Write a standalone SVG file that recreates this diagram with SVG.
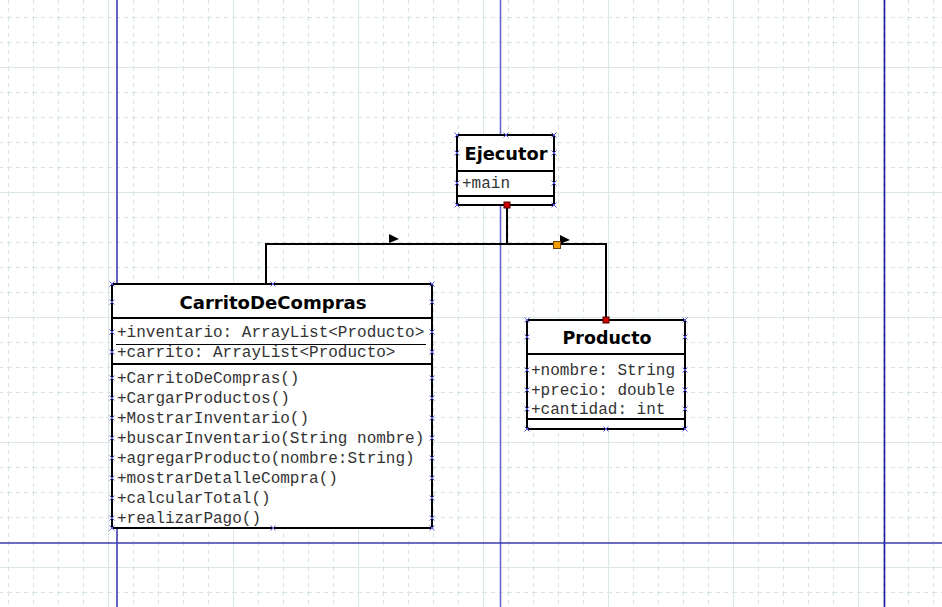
<svg xmlns="http://www.w3.org/2000/svg" xmlns:xlink="http://www.w3.org/1999/xlink" width="942" height="607" viewBox="0 0 942 607">
<style>
.box{fill:#fff;stroke:#000;stroke-width:2}
.div{stroke:#000;stroke-width:2}
.thin{stroke:#000;stroke-width:1}
.title{font-family:"DejaVu Sans",Verdana,sans-serif;font-weight:bold;font-size:18px;fill:#000;text-anchor:middle}
.mem{font-family:"Liberation Mono","Courier New",monospace;font-size:16px;fill:#333}
.conn{fill:none;stroke:#000;stroke-width:2}
.xm{stroke:#5a5ae0;stroke-width:1;fill:none}
</style>
<defs>
<pattern id="g25" patternUnits="userSpaceOnUse" x="8" y="17" width="25" height="25">
<path d="M0.5,0 V25 M0,0.5 H25" stroke="#d6e4e4" stroke-width="1" stroke-dasharray="4,4" fill="none"/>
</pattern>
<pattern id="g125" patternUnits="userSpaceOnUse" x="108" y="67" width="125" height="125">
<path d="M0.5,0 V125 M0,0.5 H125" stroke="#dce8e8" stroke-width="1.2" fill="none"/>
</pattern>
<path id="xmk" class="xm" d="M-2.5,-2.5 L2.5,2.5 M-2.5,2.5 L2.5,-2.5"/>
</defs>
<rect width="942" height="607" fill="#fff"/>
<rect width="942" height="607" fill="url(#g25)"/>
<rect width="942" height="607" fill="url(#g125)"/>
<g id="guides">
<line x1="117" y1="0" x2="117" y2="607" stroke="#3c3cb0" stroke-width="1.6"/>
<line x1="500.5" y1="0" x2="500.5" y2="607" stroke="#6a6acc" stroke-width="1.6"/>
<line x1="884.5" y1="0" x2="884.5" y2="607" stroke="#1a1aa0" stroke-width="1.6"/>
<line x1="0" y1="543" x2="942" y2="543" stroke="#3c3cb0" stroke-width="1.6"/>
</g>
<g id="connectors">
<path class="conn" d="M507,205 V244 H266 V284"/>
<path class="conn" d="M507,244 H606 V320"/>
<polygon points="389,234 399,239 389,243" fill="#000"/>
<polygon points="560,235 570,240 560,244" fill="#000"/>
<rect x="553.5" y="241.5" width="7" height="7" fill="#f5a000" stroke="#704000" stroke-width="1"/>
</g>
<g id="Ejecutor">
<rect class="box" x="457" y="135" width="97" height="70"/>
<line class="div" x1="457" y1="171" x2="554" y2="171"/>
<line class="div" x1="457" y1="196" x2="554" y2="196"/>
<text class="title" x="506" y="160" textLength="83" lengthAdjust="spacingAndGlyphs">Ejecutor</text>
<text class="mem" x="462" y="188">+main</text>
<rect x="504" y="202" width="6" height="6" fill="#d00000" stroke="#500000" stroke-width="1"/>
<use xlink:href="#xmk" x="457" y="135"/><use xlink:href="#xmk" x="506" y="135"/><use xlink:href="#xmk" x="554" y="135"/>
<use xlink:href="#xmk" x="457" y="153"/><use xlink:href="#xmk" x="554" y="153"/>
<use xlink:href="#xmk" x="457" y="183"/><use xlink:href="#xmk" x="554" y="183"/>
<use xlink:href="#xmk" x="457" y="205"/><use xlink:href="#xmk" x="554" y="205"/>
</g>
<g id="CarritoDeCompras">
<rect class="box" x="112" y="284" width="320" height="244"/>
<line class="div" x1="112" y1="318" x2="432" y2="318"/>
<line class="thin" x1="116" y1="344.5" x2="426" y2="344.5"/>
<line class="div" x1="112" y1="364" x2="432" y2="364"/>
<text class="title" x="273" y="309" textLength="187" lengthAdjust="spacingAndGlyphs">CarritoDeCompras</text>
<text class="mem" x="117" y="337">+inventario: ArrayList&lt;Producto&gt;</text>
<text class="mem" x="117" y="357">+carrito: ArrayList&lt;Producto&gt;</text>
<text class="mem" x="117" y="383">+CarritoDeCompras()</text>
<text class="mem" x="117" y="403">+CargarProductos()</text>
<text class="mem" x="117" y="423">+MostrarInventario()</text>
<text class="mem" x="117" y="443">+buscarInventario(String nombre)</text>
<text class="mem" x="117" y="463">+agregarProducto(nombre:String)</text>
<text class="mem" x="117" y="483">+mostrarDetalleCompra()</text>
<text class="mem" x="117" y="503">+calcularTotal()</text>
<text class="mem" x="117" y="523">+realizarPago()</text>
<use xlink:href="#xmk" x="112" y="284"/><use xlink:href="#xmk" x="273" y="284"/><use xlink:href="#xmk" x="432" y="284"/>
<use xlink:href="#xmk" x="112" y="302"/><use xlink:href="#xmk" x="432" y="302"/>
<use xlink:href="#xmk" x="112" y="332"/><use xlink:href="#xmk" x="432" y="332"/>
<use xlink:href="#xmk" x="112" y="352"/><use xlink:href="#xmk" x="432" y="352"/>
<use xlink:href="#xmk" x="112" y="378"/><use xlink:href="#xmk" x="432" y="378"/>
<use xlink:href="#xmk" x="112" y="398"/><use xlink:href="#xmk" x="432" y="398"/>
<use xlink:href="#xmk" x="112" y="418"/><use xlink:href="#xmk" x="432" y="418"/>
<use xlink:href="#xmk" x="112" y="438"/><use xlink:href="#xmk" x="432" y="438"/>
<use xlink:href="#xmk" x="112" y="458"/><use xlink:href="#xmk" x="432" y="458"/>
<use xlink:href="#xmk" x="112" y="478"/><use xlink:href="#xmk" x="432" y="478"/>
<use xlink:href="#xmk" x="112" y="498"/><use xlink:href="#xmk" x="432" y="498"/>
<use xlink:href="#xmk" x="112" y="518"/><use xlink:href="#xmk" x="432" y="518"/>
<use xlink:href="#xmk" x="112" y="528"/><use xlink:href="#xmk" x="273" y="528"/><use xlink:href="#xmk" x="432" y="528"/>
</g>
<g id="Producto">
<rect class="box" x="527" y="320" width="158" height="109"/>
<line class="div" x1="527" y1="354" x2="685" y2="354"/>
<line class="div" x1="527" y1="419" x2="685" y2="419"/>
<text class="title" x="607" y="344" textLength="89" lengthAdjust="spacingAndGlyphs">Producto</text>
<text class="mem" x="531" y="375">+nombre: String</text>
<text class="mem" x="531" y="395">+precio: double</text>
<text class="mem" x="531" y="414">+cantidad: int</text>
<rect x="603" y="317" width="6" height="6" fill="#d00000" stroke="#500000" stroke-width="1"/>
<use xlink:href="#xmk" x="527" y="320"/><use xlink:href="#xmk" x="685" y="320"/>
<use xlink:href="#xmk" x="527" y="337"/><use xlink:href="#xmk" x="685" y="337"/>
<use xlink:href="#xmk" x="527" y="370"/><use xlink:href="#xmk" x="685" y="370"/>
<use xlink:href="#xmk" x="527" y="390"/><use xlink:href="#xmk" x="685" y="390"/>
<use xlink:href="#xmk" x="527" y="409"/><use xlink:href="#xmk" x="685" y="409"/>
<use xlink:href="#xmk" x="527" y="429"/><use xlink:href="#xmk" x="606" y="429"/><use xlink:href="#xmk" x="685" y="429"/>
</g>
</svg>
